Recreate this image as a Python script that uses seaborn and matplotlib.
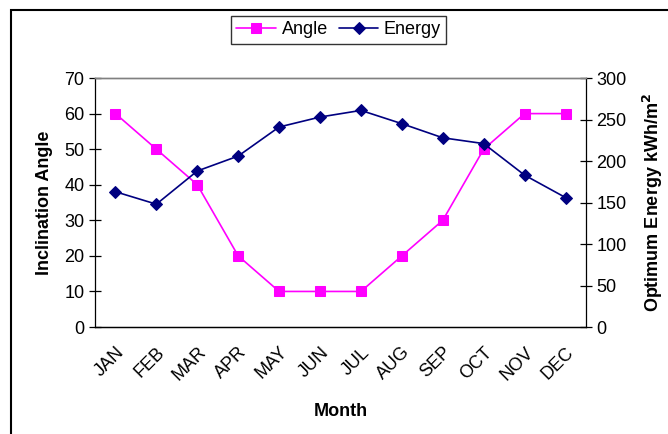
import numpy as np
import pandas as pd
import matplotlib
matplotlib.use("Agg")
import matplotlib.pyplot as plt
from matplotlib.patches import Rectangle
import seaborn as sns

# data
months = ["JAN", "FEB", "MAR", "APR", "MAY", "JUN",
          "JUL", "AUG", "SEP", "OCT", "NOV", "DEC"]
angle = [60, 50, 40, 20, 10, 10, 10, 20, 30, 50, 60, 60]
energy = [163, 148, 188, 206, 241, 253, 261, 245, 228, 221, 183, 156]

df = pd.DataFrame({"pos": np.arange(len(months)), "month": months,
                   "angle": angle, "energy": energy})

sns.set_style("white")
plt.rcParams["font.family"] = ["Liberation Sans", "DejaVu Sans"]
plt.rcParams["text.color"] = "black"
plt.rcParams["axes.labelcolor"] = "black"
plt.rcParams["xtick.color"] = "black"
plt.rcParams["ytick.color"] = "black"

fs = 13

fig = plt.figure(figsize=(6.68, 4.34), dpi=100)
ax = fig.add_axes([0.1422, 0.2465, 0.735, 0.5737])
ax2 = ax.twinx()

sns.lineplot(data=df, x="pos", y="angle", ax=ax, color="#FF00FF", marker="s",
             markersize=7, markeredgecolor="#FF00FF", linewidth=1.2, sort=False,
             label="Angle", legend=False)
sns.lineplot(data=df, x="pos", y="energy", ax=ax2, color="#000080", marker="D",
             markersize=6, markeredgecolor="#000080", linewidth=1.2, sort=False,
             label="Energy", legend=False)

ax.set_xlim(-0.5, len(months) - 0.5)
ax.set_ylim(0, 70)
ax2.set_ylim(0, 300)
ax.set_yticks(range(0, 71, 10))
ax2.set_yticks(range(0, 301, 50))

ax.set_xticks(df["pos"])
ax.set_xticklabels(months, rotation=45, ha="right", rotation_mode="anchor")
ax.set_xticks(np.arange(-0.5, len(months), 1), minor=True)
ax.tick_params(axis="x", which="major", length=0, pad=12, labelsize=fs)
ax.tick_params(axis="x", which="minor", length=8, direction="inout", width=0.9)
ax.tick_params(axis="y", length=8, direction="inout", width=0.9, labelsize=fs,
               left=True)
ax2.tick_params(axis="y", length=8, direction="inout", width=0.9, labelsize=fs,
                right=True)

for a in (ax, ax2):
    for side in ("left", "right", "bottom"):
        a.spines[side].set_color("black")
        a.spines[side].set_linewidth(0.9)
    a.spines["top"].set_color("#808080")
    a.spines["top"].set_linewidth(1.0)
ax2.spines["left"].set_visible(False)
ax.spines["right"].set_visible(False)

ax.set_xlabel("Month", fontsize=fs, fontweight="bold", labelpad=14)
ax.set_ylabel("Inclination Angle", fontsize=fs, fontweight="bold", labelpad=8)
ax2.set_ylabel("Optimum Energy kWh/m$^\\mathbf{2}$", fontsize=fs,
               fontweight="bold", labelpad=10)

h1, l1 = ax.get_legend_handles_labels()
h2, l2 = ax2.get_legend_handles_labels()
leg = fig.legend(h1 + h2, l1 + l2, loc="center", bbox_to_anchor=(0.507, 0.931),
                 ncol=2, frameon=True, fancybox=False, fontsize=fs,
                 handlelength=2.2, handletextpad=0.3, columnspacing=0.6,
                 borderpad=0.3, edgecolor="black")
leg.get_frame().set_linewidth(1.0)

# outer chart frame (cut off at right and bottom like the reference)
fig.patches.append(Rectangle((11 / 668, -0.1), 2, 1 - 10 / 434 + 0.1,
                             transform=fig.transFigure, fill=False,
                             edgecolor="black", linewidth=1.5))

fig.savefig("out.png", dpi=100)
